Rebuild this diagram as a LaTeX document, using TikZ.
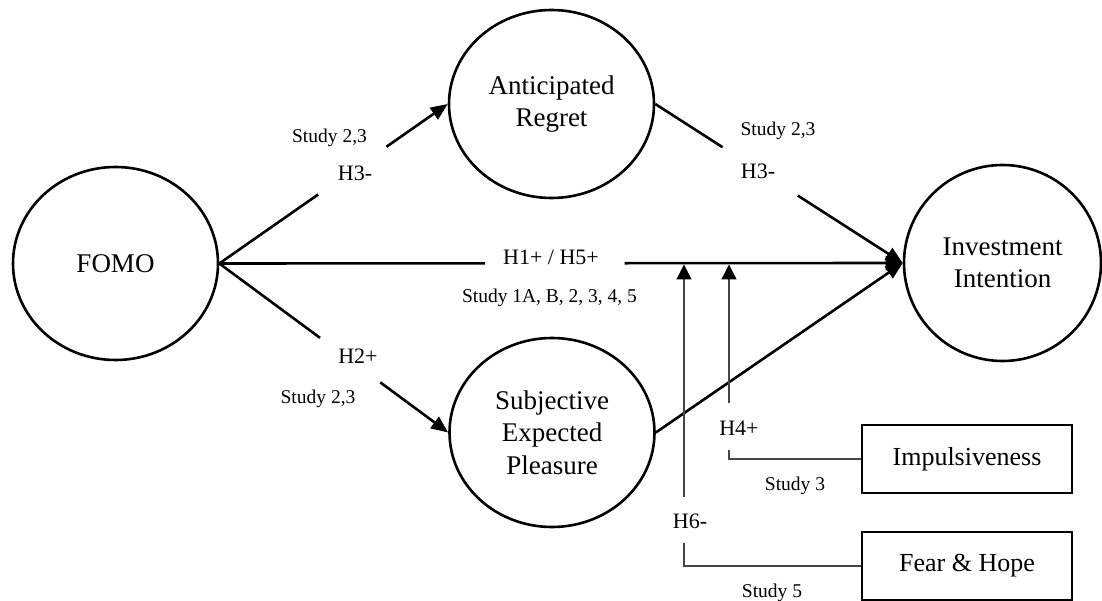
\documentclass[tikz,border=0pt]{standalone}
\usepackage{fontspec}
\setmainfont{Liberation Serif}
\usetikzlibrary{arrows.meta,shapes.geometric,calc}
\definecolor{modgray}{RGB}{70,70,70}
\begin{document}
\begin{tikzpicture}[x=1pt,y=-1pt,
  construct/.style={draw, ellipse, line width=2.6pt, inner sep=0pt, align=center,
    font=\fontsize{27}{32.5}\selectfont},
  modbox/.style={draw, rectangle, line width=2.6pt, minimum width=210pt, minimum height=68pt,
    inner sep=0pt, font=\fontsize{26}{31}\selectfont},
  link/.style={line width=2.6pt},
  tipped/.style={-{Triangle[length=17pt,width=14pt]}},
  modline/.style={line width=1.3pt, draw=modgray},
  modtip/.style={-{Triangle[length=15pt,width=15pt,color=black]}},
  hlab/.style={anchor=base, inner sep=0pt, font=\fontsize{22}{26}\selectfont},
  slab/.style={anchor=base, inner sep=0pt, font=\fontsize{19.5}{23}\selectfont}
]
\useasboundingbox (0,0) rectangle (1102,601);

% constructs
\node[construct, minimum width=205pt, minimum height=193pt] (fomo) at (115.5,263.5) {FOMO};
\node[construct, minimum width=205pt, minimum height=188pt] (ar) at (551.5,104) {Anticipated\\Regret};
\node[construct, minimum width=205pt, minimum height=189pt] (sep) at (552,432.5) {Subjective\\Expected\\Pleasure};
\node[construct, minimum width=197pt, minimum height=196pt] (inv) at (1002.5,263) {Investment\\Intention};

% moderators
\node[modbox] (imp) at (967,459) {Impulsiveness};
\node[modbox] (fh) at (967,566) {Fear \& Hope};

% main paths
\draw[link] (fomo.east) -- ($(fomo.east)!0.433!(ar.west)$);
\draw[link, tipped] ($(fomo.east)!0.732!(ar.west)$) -- (ar.west);

\draw[link] (fomo.east) -- ($(fomo.east)!0.44!(sep.west)$);
\draw[link, tipped] ($(fomo.east)!0.703!(sep.west)$) -- (sep.west);

\draw[link] (fomo.east) -- ($(fomo.east)!0.389!(inv.west)$);
\draw[link, tipped] ($(fomo.east)!0.593!(inv.west)$) -- (inv.west);

\draw[link] (ar.east) -- ($(ar.east)!0.272!(inv.west)$);
\draw[link, tipped] ($(ar.east)!0.576!(inv.west)$) -- (inv.west);

\draw[link, tipped] (sep.east) -- (inv.west);

% moderation arrows
\coordinate (m6top) at (684,264.5);
\coordinate (m6bot) at (684,497);
\coordinate (m6elb) at (684,543);
\coordinate (m4top) at (729,264.5);
\coordinate (m4bot) at (729,403);
\coordinate (m4elb) at (729,450);

\draw[modline, modtip] (m6bot) -- (m6top);
\draw[modline, modtip] (m4bot) -- (m4top);
\draw[modline] (m4elb) |- (imp.west);
\draw[modline] (m6elb) |- (fh.west);

% labels
\node[slab] (s1) at (329.5,143) {Study 2,3};
\node[hlab] (h3a) at (355,181) {H3-};
\node[slab] (s2) at (778,136) {Study 2,3};
\node[hlab] (h3b) at (758,179) {H3-};
\node[hlab] (h2) at (358,363) {H2+};
\node[slab] (s3) at (318,403) {Study 2,3};
\node[hlab] (h15) at (551,265) {H1+ / H5+};
\node[slab] (s4) at (549.5,302) {Study 1A, B, 2, 3, 4, 5};
\node[hlab] (h4) at (739,435) {H4+};
\node[slab] (s5) at (795,490) {Study 3};
\node[hlab] (h6) at (690,528) {H6-};
\node[slab] (s6) at (772,597) {Study 5};
\end{tikzpicture}
\end{document}
